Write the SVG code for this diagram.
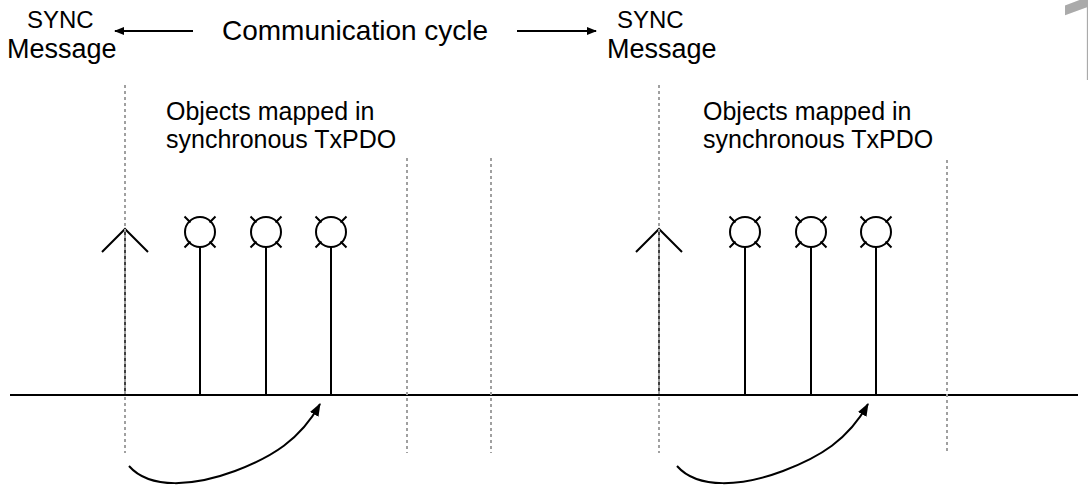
<svg xmlns="http://www.w3.org/2000/svg" width="1088" height="496" viewBox="0 0 1088 496">
<style>
text{font-family:"Liberation Sans",Arial,sans-serif;fill:#000}
.sync{font-size:24px}
.msg{font-size:27px}
.big{font-size:28px}
.obj{font-size:25px}
.dash{stroke:#a0a0a0;stroke-width:2;stroke-dasharray:3 3;fill:none}
.ln{stroke:#000;stroke-width:2;fill:none}
.lamp{stroke:#000;stroke-width:2;fill:#fff}
</style>
<defs>
<marker id="ah" viewBox="0 0 10 10" refX="9" refY="5" markerWidth="10" markerHeight="10" markerUnits="userSpaceOnUse" orient="auto">
<path d="M0,1 L10,5 L0,9 z" fill="#000"/>
</marker>
<marker id="ah2" viewBox="0 0 12 10" refX="11" refY="5" markerWidth="13" markerHeight="11" markerUnits="userSpaceOnUse" orient="auto">
<path d="M0,0.5 L12,5 L0,9.5 z" fill="#000"/>
</marker>
<g id="lampsym">
<circle cx="0" cy="0" r="15" class="lamp"/>
<path d="M-9.5,-9.5 L-15.5,-15.5 M9.5,-9.5 L15.5,-15.5 M-9.5,9.5 L-15.5,15.5 M9.5,9.5 L15.5,15.5" class="ln"/>
</g>
</defs>
<rect width="1088" height="496" fill="#fff"/>
<text id="pagemark" x="1055" y="80" style="font-family:Roboto,sans-serif;font-size:120px;fill:#aaa">1</text>

<g id="labels">
<g id="sync1"><text class="sync" x="27" y="28">SYNC</text><text class="msg" x="7" y="58">Message</text></g>
<g id="sync2"><text class="sync" x="617" y="28">SYNC</text><text class="msg" x="607" y="58">Message</text></g>
<g id="cycle"><text class="big" x="222" y="40">Communication cycle</text></g>
<g id="objs1"><text class="obj" x="166" y="120">Objects mapped in</text><text class="obj" x="166" y="148">synchronous TxPDO</text></g>
<g id="objs2"><text class="obj" x="703" y="120">Objects mapped in</text><text class="obj" x="703" y="148">synchronous TxPDO</text></g>
</g>

<g id="timeline">
<line x1="10" y1="395" x2="1078" y2="395" class="ln"/>
</g>

<g id="sync-arrows">
<g id="syncarrow1">
<line x1="125" y1="229" x2="125" y2="395" stroke="#000" stroke-width="1.5"/>
<path d="M102,252 L125,229 L148,252" class="ln"/>
</g>
<g id="syncarrow2">
<line x1="659" y1="229" x2="659" y2="395" stroke="#000" stroke-width="1.5"/>
<path d="M636,252 L659,229 L682,252" class="ln"/>
</g>
</g>

<g id="guides">
<line x1="125" y1="85" x2="125" y2="453" class="dash"/>
<line x1="407" y1="158" x2="407" y2="453" class="dash"/>
<line x1="491" y1="158" x2="491" y2="453" class="dash"/>
<line x1="659" y1="85" x2="659" y2="453" class="dash"/>
<line x1="947" y1="160" x2="947" y2="453" class="dash"/>
</g>

<g id="objects1">
<g id="o1a"><line x1="200" y1="247" x2="200" y2="395" class="ln"/><use href="#lampsym" x="200" y="232"/></g>
<g id="o1b"><line x1="266" y1="247" x2="266" y2="395" class="ln"/><use href="#lampsym" x="266" y="232"/></g>
<g id="o1c"><line x1="331" y1="247" x2="331" y2="395" class="ln"/><use href="#lampsym" x="331" y="232"/></g>
</g>
<g id="objects2">
<g id="o2a"><line x1="745" y1="247" x2="745" y2="395" class="ln"/><use href="#lampsym" x="745" y="232"/></g>
<g id="o2b"><line x1="811" y1="247" x2="811" y2="395" class="ln"/><use href="#lampsym" x="811" y="232"/></g>
<g id="o2c"><line x1="876" y1="247" x2="876" y2="395" class="ln"/><use href="#lampsym" x="876" y="232"/></g>
</g>

<g id="connectors">
<line x1="193" y1="31" x2="115" y2="31" class="ln" marker-end="url(#ah)"/>
<line x1="517" y1="31" x2="596" y2="31" class="ln" marker-end="url(#ah)"/>
<path d="M129,466 C150,490 195,486 235,471 C272,457 300,440 320,404" class="ln" marker-end="url(#ah2)"/>
<path d="M677,466 C698,490 743,486 783,471 C820,457 848,440 868,404" class="ln" marker-end="url(#ah2)"/>
</g>
</svg>
